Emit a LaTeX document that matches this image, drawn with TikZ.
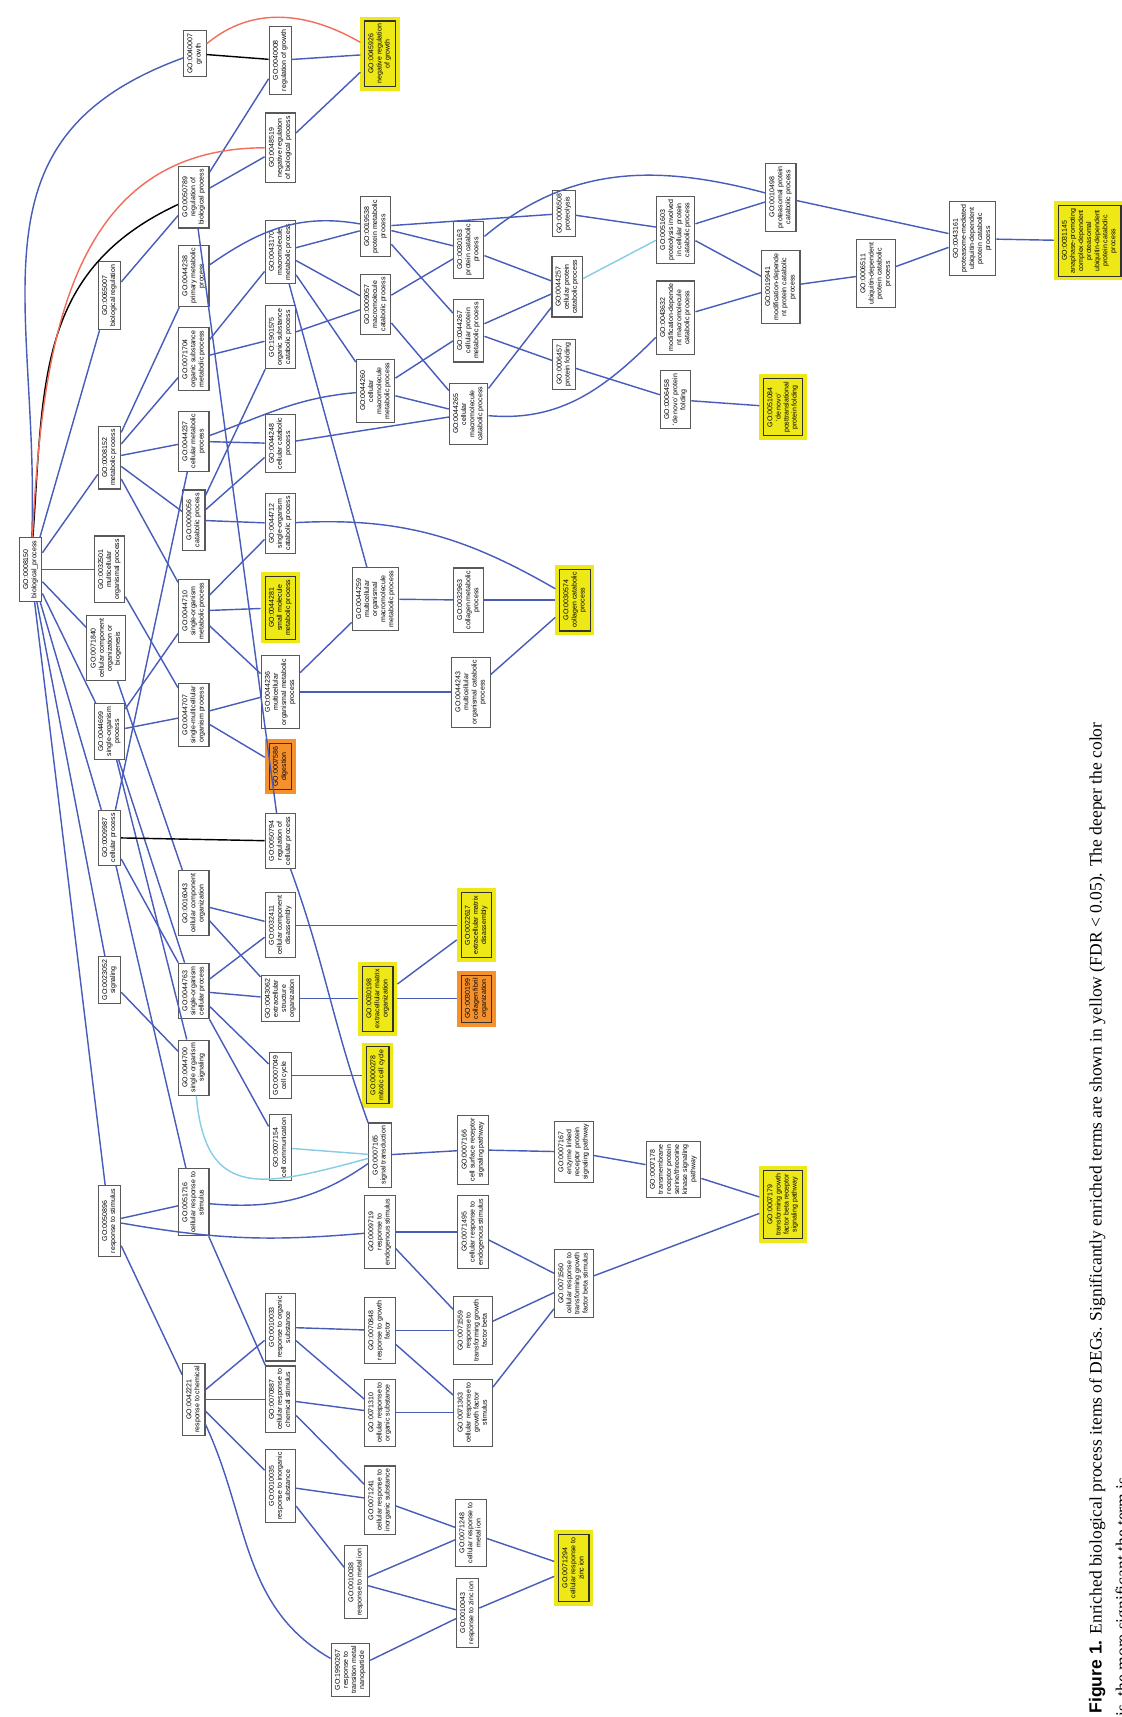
\documentclass[tikz,border=0pt]{standalone}
\usepackage{fontspec}
\usepackage{graphicx}
\setmainfont{Liberation Serif}
\newfontfamily\gofont{Liberation Sans}
\definecolor{edgeblue}{RGB}{72,92,185}
\definecolor{edgered}{RGB}{240,110,90}
\definecolor{edgecyan}{RGB}{135,205,230}
\definecolor{sigyellow}{RGB}{238,232,22}
\definecolor{sigorange}{RGB}{245,145,45}
\newcommand{\term}[2]{\rotatebox{90}{\begin{tabular}{@{}c@{}}GO:#1\\#2\end{tabular}}}

\begin{document}
\begin{tikzpicture}[x=0.5pt,y=0.5pt,
	go/.style={draw=black!65, fill=white, line width=0.5pt, inner sep=1.4pt, font=\gofont\fontsize{3.2}{3.7}\selectfont},
	goy/.style={go, fill=sigyellow, draw=black!80, outer sep=2pt, preaction={draw=sigyellow, line width=4pt}},
	goo/.style={go, fill=sigorange, draw=black!80, outer sep=2pt, preaction={draw=sigorange, line width=4pt}},
	bl/.style={draw=edgeblue, line width=0.65pt},
	rd/.style={draw=edgered, line width=0.65pt},
	bk/.style={draw=black, line width=0.65pt},
	cy/.style={draw=edgecyan, line width=0.65pt}]
	\useasboundingbox (0,0) rectangle (1024,-1568);

	\node[go] (bp) at (28,-520) {\term{0008150}{biological\_process}};

	\node[go] (bioreg) at (100,-270) {\term{0065007}{biological regulation}};
	\node[go] (met) at (100,-418) {\term{0008152}{metabolic process}};
	\node[go] (multi) at (100,-520) {\term{0032501}{multicellular\\organismal process}};
	\node[go] (ccob) at (97,-592) {\term{0071840}{cellular component\\organization or\\biogenesis}};
	\node[go] (sop) at (100,-668) {\term{0044699}{single-organism\\process}};
	\node[go] (cellp) at (100,-765) {\term{0009987}{cellular process}};
	\node[go] (sig) at (100,-895) {\term{0023052}{signaling}};
	\node[go] (resp) at (100,-1115) {\term{0050896}{response to stimulus}};

	\node[go] (growth) at (178,-49) {\term{0040007}{growth}};
	\node[go] (regbio) at (177,-180) {\term{0050789}{regulation of\\biological process}};
	\node[go] (primmet) at (177,-252) {\term{0044238}{primary metabolic\\process}};
	\node[go] (orgmet) at (177,-328) {\term{0071704}{organic substance\\metabolic process}};
	\node[go] (cellmet) at (177,-403) {\term{0044237}{cellular metabolic\\process}};
	\node[go] (cat) at (177,-475) {\term{0009056}{catabolic process}};
	\node[go] (somet) at (177,-558) {\term{0044710}{single-organism\\metabolic process}};
	\node[go] (smop) at (177,-653) {\term{0044707}{single-multicellular\\organism process}};
	\node[go] (cco) at (177,-825) {\term{0016043}{cellular component\\organization}};
	\node[go] (socp) at (177,-905) {\term{0044763}{single-organism\\cellular process}};
	\node[go] (sosig) at (177,-975) {\term{0044700}{single organism\\signaling}};
	\node[go] (cresp) at (177,-1098) {\term{0051716}{cellular response to\\stimulus}};
	\node[go] (rchem) at (177,-1278) {\term{0042221}{response to chemical}};

	\node[go] (reggrowth) at (256,-55) {\term{0040008}{regulation of growth}};
	\node[go] (negbio) at (256,-135) {\term{0048519}{negative regulation\\of biological process}};
	\node[go] (macromet) at (256,-230) {\term{0043170}{macromolecule\\metabolic process}};
	\node[go] (orgcat) at (256,-308) {\term{1901575}{organic substance\\catabolic process}};
	\node[go] (cellcat) at (256,-405) {\term{0044248}{cellular catabolic\\process}};
	\node[go] (socat) at (256,-478) {\term{0044712}{single-organism\\catabolic process}};
	\node[goy] (small) at (256,-555) {\term{0044281}{small molecule\\metabolic process}};
	\node[go] (mometp) at (256,-632) {\term{0044236}{multicellular\\organismal metabolic\\process}};
	\node[goo] (digest) at (256,-700) {\term{0007586}{digestion}};
	\node[go] (regcell) at (256,-768) {\term{0050794}{regulation of\\cellular process}};
	\node[go] (ccd) at (256,-845) {\term{0032411}{cellular component\\disassembly}};
	\node[go] (ecso) at (256,-912) {\term{0043062}{extracellular\\structure\\organization}};
	\node[go] (cycle) at (256,-982) {\term{0007049}{cell cycle}};
	\node[go] (comm) at (256,-1048) {\term{0007154}{cell communication}};
	\node[go] (rorg) at (256,-1212) {\term{0010033}{response to organic\\substance}};
	\node[go] (crchem) at (256,-1278) {\term{0070887}{cellular response to\\chemical stimulus}};
	\node[go] (rinorg) at (256,-1357) {\term{0010035}{response to inorganic\\substance}};

	\node[goy] (neggrowth) at (347,-49) {\term{0045926}{negative regulation\\of growth}};
	\node[go] (protmet) at (343,-207) {\term{0019538}{protein metabolic\\process}};
	\node[go] (macrocat) at (343,-278) {\term{0009057}{macromolecule\\catabolic process}};
	\node[go] (cmacromet) at (343,-357) {\term{0044260}{cellular\\macromolecule\\metabolic process}};
	\node[go] (momacro) at (343,-547) {\term{0044259}{multicellular\\organismal\\macromolecule\\metabolic process}};
	\node[goy] (ecmo) at (345,-912) {\term{0030198}{extracellular matrix\\organization}};
	\node[goy] (mitotic) at (345,-982) {\term{0000278}{mitotic cell cycle}};
	\node[go] (sigtrans) at (347,-1055) {\term{0007165}{signal transduction}};
	\node[go] (rendo) at (347,-1125) {\term{0009719}{response to\\endogenous stimulus}};
	\node[go] (rgf) at (347,-1215) {\term{0070848}{response to growth\\factor}};
	\node[go] (crorg) at (347,-1290) {\term{0071310}{cellular response to\\organic substance}};
	\node[go] (crinorg) at (347,-1370) {\term{0071241}{cellular response to\\inorganic substance}};
	\node[go] (rmetal) at (325,-1445) {\term{0010038}{response to metal ion}};
	\node[go] (rnano) at (320,-1525) {\term{1990267}{response to\\transition metal\\nanoparticle}};

	\node[go] (protcat) at (428,-228) {\term{0030163}{protein catabolic\\process}};
	\node[go] (cprotmet) at (428,-302) {\term{0044267}{cellular protein\\metabolic process}};
	\node[go] (cmacrocat) at (428,-378) {\term{0044265}{cellular\\macromolecule\\catabolic process}};
	\node[go] (collmet) at (428,-548) {\term{0032963}{collagen metabolic\\process}};
	\node[go] (mocat) at (430,-632) {\term{0044243}{multicellular\\organismal catabolic\\process}};
	\node[goy] (ecmd) at (435,-845) {\term{0022617}{extracellular matrix\\disassembly}};
	\node[goo] (fibril) at (435,-912) {\term{0030199}{collagen fibril\\organization}};
	\node[go] (csr) at (432,-1050) {\term{0007166}{cell surface receptor\\signaling pathway}};
	\node[go] (crendo) at (432,-1125) {\term{0071495}{cellular response to\\endogenous stimulus}};
	\node[go] (rtgfb) at (432,-1215) {\term{0071559}{response to\\transforming growth\\factor beta}};
	\node[go] (crgf) at (432,-1290) {\term{0071363}{cellular response to\\growth factor\\stimulus}};
	\node[go] (crmetal) at (430,-1400) {\term{0071248}{cellular response to\\metal ion}};
	\node[go] (rzinc) at (427,-1473) {\term{0010043}{response to zinc ion}};

	\node[go] (proteol) at (515,-195) {\term{0006508}{proteolysis}};
	\node[go] (cprotcat) at (518,-262) {\term{0044257}{cellular protein\\catabolic process}};
	\node[go] (fold) at (515,-333) {\term{0006457}{protein folding}};
	\node[goy] (collcat) at (525,-548) {\term{0030574}{collagen catabolic\\process}};
	\node[go] (elr) at (524,-1052) {\term{0007167}{enzyme linked\\receptor protein\\signaling pathway}};
	\node[go] (crtgfb) at (524,-1172) {\term{0071560}{cellular response to\\transforming growth\\factor beta stimulus}};
	\node[goy] (crzinc) at (524,-1432) {\term{0071294}{cellular response to\\zinc ion}};

	\node[go] (pcpc) at (617,-210) {\term{0051603}{proteolysis involved\\in cellular protein\\catabolic process}};
	\node[go] (mdmc) at (617,-290) {\term{0043632}{modification-depende\\nt macromolecule\\catabolic process}};
	\node[go] (denovo) at (617,-365) {\term{0006458}{‘de novo’ protein\\folding}};
	\node[go] (tmr) at (615,-1068) {\term{0007178}{transmembrane\\receptor protein\\serine/threonine\\kinase signaling\\pathway}};

	\node[go] (proteas) at (713,-180) {\term{0010498}{proteasomal protein\\catabolic process}};
	\node[go] (mdpc) at (713,-262) {\term{0019941}{modification-depende\\nt protein catabolic\\process}};
	\node[goy] (dnpt) at (715,-372) {\term{0051084}{‘de novo’\\posttranslational\\protein folding}};
	\node[goy] (tgfbr) at (715,-1100) {\term{0007179}{transforming growth\\factor beta receptor\\signaling pathway}};

	\node[go] (ubq) at (800,-250) {\term{0006511}{ubiquitin-dependent\\protein catabolic\\process}};
	\node[go] (pmu) at (888,-218) {\term{0043161}{proteasome-mediated\\ubiquitin-dependent\\protein catabolic\\process}};
	\node[goy] (apc) at (995,-220) {\term{0031145}{anaphase-promoting\\complex-dependent\\proteasomal\\ubiquitin-dependent\\protein catabolic\\process}};

	\foreach \a/\b in {bp/bioreg, bp/met, bp/multi, bp/ccob, bp/sop, bp/cellp, bp/sig, bp/resp,
		bioreg/regbio, regbio/reggrowth, regbio/negbio, reggrowth/neggrowth, negbio/neggrowth,
		met/primmet, met/orgmet, met/cellmet, met/cat, met/somet, orgmet/macromet, orgmet/orgcat,
		cellmet/cellcat, cat/cellcat, cat/socat, cat/orgcat, cellp/cellmet, somet/socat, somet/small,
		somet/mometp, sop/somet, sop/smop, sop/socp, sop/sosig, multi/smop, ccob/cco, smop/mometp,
		smop/digest, mometp/momacro, mometp/mocat, momacro/collmet, collmet/collcat, mocat/collcat,
		macromet/momacro, macromet/protmet, macromet/macrocat, macromet/cmacromet, orgcat/macrocat,
		cellcat/cmacrocat, protmet/protcat, protmet/cprotmet, protmet/proteol, macrocat/protcat,
		macrocat/cmacrocat, cmacromet/cprotmet, cmacromet/cmacrocat, protcat/cprotcat,
		cprotmet/cprotcat, cprotmet/fold, cmacrocat/cprotcat, proteol/pcpc, fold/denovo,
		denovo/dnpt, mdmc/mdpc, pcpc/proteas, pcpc/mdpc, proteas/pmu, mdpc/ubq, ubq/pmu, pmu/apc,
		regbio/regcell, cellp/socp, cellp/cresp, sig/sosig, cco/ccd, cco/ecso, socp/ccd, socp/ecso,
		socp/cycle, socp/comm, ccd/ecmd, ecso/ecmo, ecmo/ecmd, ecmo/fibril, cycle/mitotic,
		resp/cresp, resp/rchem, cresp/crchem, rchem/rorg, rchem/crchem, rchem/rinorg, rorg/rgf,
		rorg/crorg, crchem/crorg, crchem/crinorg, rinorg/crinorg, rinorg/rmetal, rendo/crendo,
		rendo/rtgfb, rgf/rtgfb, rgf/crgf, crorg/crgf, crinorg/crmetal, rmetal/crmetal, rmetal/rzinc,
		rnano/rzinc, crmetal/crzinc, rzinc/crzinc, crendo/crtgfb, rtgfb/crtgfb, crgf/crtgfb,
		sigtrans/csr, csr/elr, elr/tmr, tmr/tgfbr, crtgfb/tgfbr}
		\draw[bl] (\a) -- (\b);

	\draw[bl] (bp) to[out=88,in=200,looseness=1.2] (growth);
	\draw[bk] (bp) to[out=86,in=205,looseness=1.1] (regbio);
	\draw[rd] (bp) to[out=87,in=180,looseness=1.1] (negbio);
	\draw[rd] (growth) to[out=40,in=150] (neggrowth);
	\draw[bk] (growth) -- (reggrowth);
	\draw[bk] (cellp) -- (regcell);
	\draw[bl] (primmet) to[out=35,in=170] (protmet);
	\draw[bl] (cellmet) to[out=20,in=185] (cmacromet);
	\draw[bl] (socat) to[out=3,in=150] (collcat);
	\draw[bl] (protcat) to[out=40,in=165] (proteas);
	\draw[bl] (cmacrocat) to[out=-5,in=225] (mdmc);
	\draw[bl] (cresp) to[out=-5,in=215] (sigtrans);
	\draw[bl] (regcell) to[out=-70,in=110] (sigtrans);
	\draw[bl] (resp) to[out=-10,in=185] (rendo);
	\draw[bl] (rchem) to[out=-65,in=150] (rnano);
	\draw[cy] (sosig) to[out=-85,in=195,looseness=1.5] (sigtrans);
	\draw[cy] (comm) -- (sigtrans);
	\draw[cy] (cprotcat) -- (pcpc);

	\node[rotate=90, anchor=base west, inner sep=0, font=\fontsize{8}{9.6}\selectfont] (cap1) at (1006,-1565) {{\gofont\bfseries Figure 1.} Enriched biological process items of DEGs. Significantly enriched terms are shown in yellow (FDR < 0.05). The deeper the color};
	\node[rotate=90, anchor=base west, inner sep=0, font=\fontsize{8}{9.6}\selectfont] (cap2) at (1030,-1568) {is, the more significant the term is.};
\end{tikzpicture}
\end{document}
